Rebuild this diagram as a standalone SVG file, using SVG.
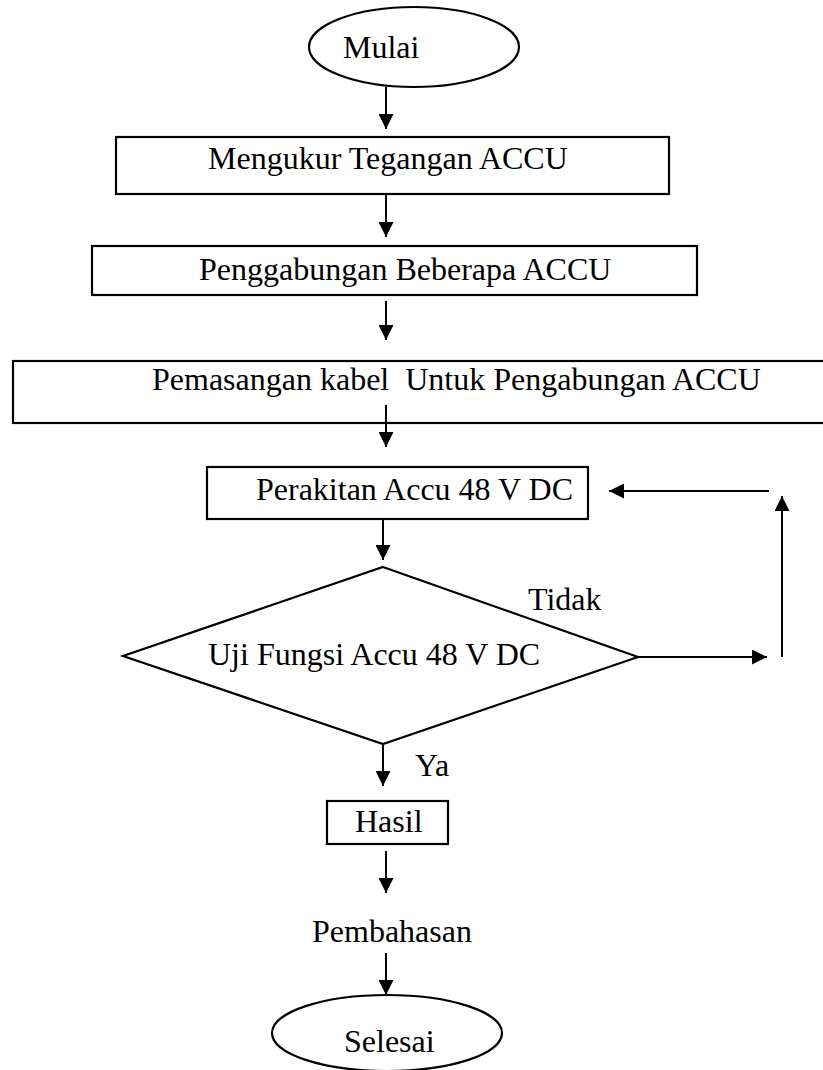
<svg xmlns="http://www.w3.org/2000/svg" width="823" height="1070" viewBox="0 0 823 1070">
<style>
.s{fill:#fff;stroke:#000;stroke-width:2.2}
.t{font-family:"Liberation Serif","Times New Roman",serif;font-size:32px;fill:#000;white-space:pre}
.c{stroke:#000;stroke-width:2;fill:none;marker-end:url(#a)}
</style>
<defs>
<marker id="a" markerUnits="userSpaceOnUse" markerWidth="15" markerHeight="15" refX="15" refY="7.5" orient="auto">
<path d="M0,0 L15,7.5 L0,15 z" fill="#000"/>
</marker>
</defs>
<rect width="823" height="1070" fill="#fff"/>
<g id="mulai"><ellipse class="s" cx="414" cy="47" rx="105" ry="40"/><text class="t" x="343" y="58">Mulai</text></g>
<g id="mengukur"><rect class="s" x="116" y="137" width="553" height="57"/><text class="t" x="208" y="169">Mengukur Tegangan ACCU</text></g>
<g id="penggabungan"><rect class="s" x="92" y="246" width="605" height="49"/><text class="t" x="199" y="280">Penggabungan Beberapa ACCU</text></g>
<g id="pemasangan"><rect class="s" x="13" y="361" width="830" height="62"/><text class="t" x="152" y="390">Pemasangan kabel  Untuk Pengabungan ACCU</text></g>
<g id="perakitan"><rect class="s" x="207" y="467" width="381" height="52"/><text class="t" x="256" y="500">Perakitan Accu 48 V DC</text></g>
<g id="uji"><polygon class="s" points="383,567 638,657 383,744 123,656"/><text class="t" x="208" y="665">Uji Fungsi Accu 48 V DC</text></g>
<g id="hasil"><rect class="s" x="327" y="801" width="121" height="43"/><text class="t" x="355" y="832">Hasil</text></g>
<g id="pembahasan"><text class="t" x="312" y="942">Pembahasan</text></g>
<g id="selesai"><ellipse class="s" cx="387" cy="1033" rx="115" ry="38"/><text class="t" x="344" y="1052">Selesai</text></g>
<g id="connectors">
<line class="c" x1="386" y1="87" x2="386" y2="129"/>
<line class="c" x1="386" y1="194" x2="386" y2="237"/>
<line class="c" x1="386" y1="301" x2="386" y2="340"/>
<line class="c" x1="386" y1="405" x2="386" y2="447"/>
<line class="c" x1="383" y1="519" x2="383" y2="560"/>
<line class="c" x1="638" y1="657" x2="767" y2="657"/>
<line class="c" x1="782" y1="657" x2="782" y2="496"/>
<line class="c" x1="769" y1="491" x2="609" y2="491"/>
<line class="c" x1="383" y1="744" x2="383" y2="786"/>
<line class="c" x1="386" y1="851" x2="386" y2="893"/>
<line class="c" x1="386" y1="953" x2="386" y2="995"/>
<text class="t" x="528" y="610">Tidak</text>
<text class="t" x="415" y="776">Ya</text>
</g>
</svg>
